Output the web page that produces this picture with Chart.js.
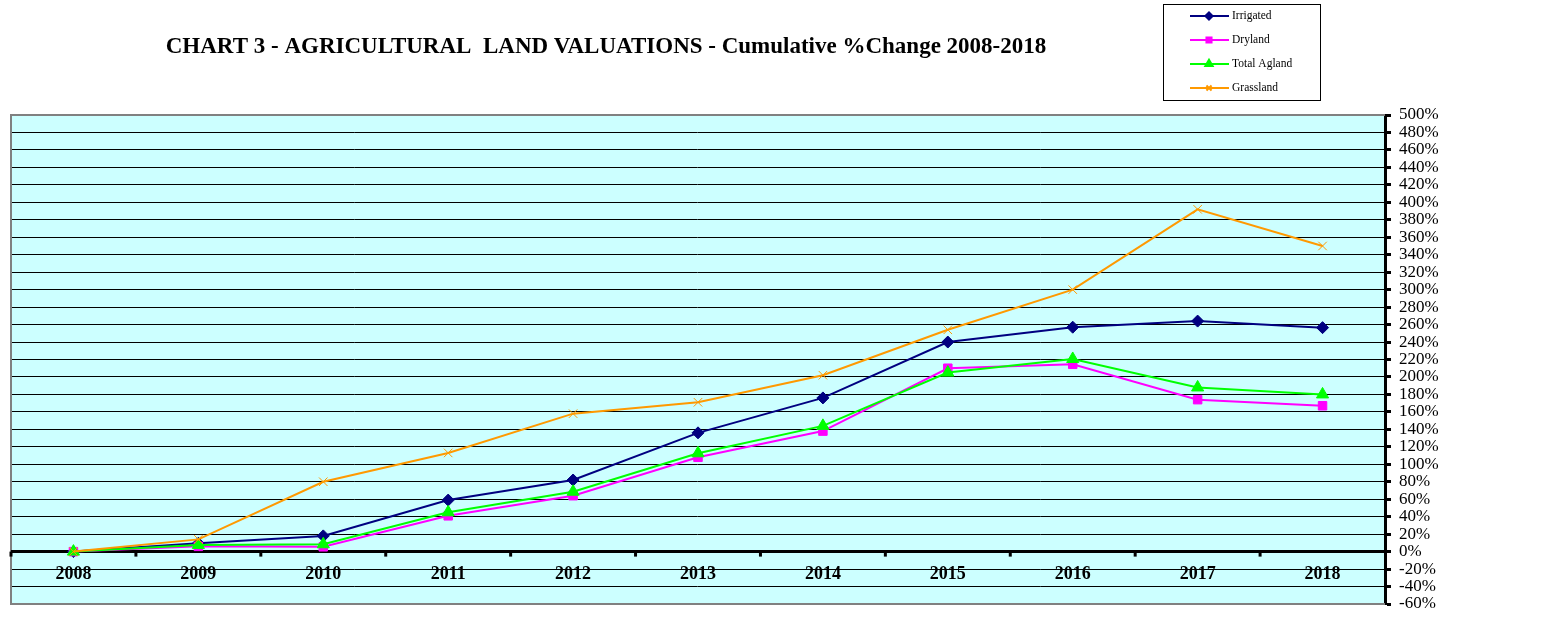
<!DOCTYPE html>
<html>
<head>
<meta charset="utf-8">
<script src="https://cdn.jsdelivr.net/npm/chart.js@4.4.1/dist/chart.umd.min.js"></script>
<style>
  body { margin: 0; background: #fff; }
  canvas { display: block; }
</style>
</head>
<body>
<canvas id="landChart" width="1556" height="624"></canvas>
<script>
// Chart data
const years = ['2008', '2009', '2010', '2011', '2012', '2013', '2014', '2015', '2016', '2017', '2018'];
const irrigated = [0, 9.5, 18, 59, 82, 136, 176, 240, 257, 264, 256.5];
const dryland = [0, 6, 5.5, 41, 64, 108, 138, 210, 214.5, 174, 167];
const totalAgland = [0, 7.6, 8.4, 45, 68.6, 112.6, 144, 205, 220.6, 188, 180];
const grassland = [0, 14, 80, 113, 158, 171, 202, 254, 300, 392, 350];
const yMin = -60;
const yMax = 500;
const yStep = 20;

const serif = "'Liberation Serif', 'Times New Roman', serif";

// Plot background, border, zero line, x labels, title and legend
const decorPlugin = {
    id: 'decor',
    beforeDraw(chart) {
        const { ctx, chartArea: a } = chart;
        ctx.save();
        ctx.fillStyle = '#CCFFFF';
        ctx.fillRect(a.left, a.top, a.right - a.left, a.bottom - a.top);
        ctx.restore();
    },
    beforeDatasetsDraw(chart) {
        const { ctx, chartArea: a, scales } = chart;
        const x = scales.x, y = scales.y;
        const y0 = y.getPixelForValue(0);
        ctx.save();
        // gray plot border
        ctx.strokeStyle = '#808080';
        ctx.lineWidth = 2;
        ctx.beginPath();
        ctx.moveTo(a.right, a.top);
        ctx.lineTo(a.left, a.top);
        ctx.lineTo(a.left, a.bottom);
        ctx.lineTo(a.right, a.bottom);
        ctx.stroke();
        // zero line
        ctx.strokeStyle = '#000';
        ctx.lineWidth = 3;
        ctx.beginPath();
        ctx.moveTo(a.left, y0);
        ctx.lineTo(a.right, y0);
        ctx.stroke();
        // category tick marks
        for (let i = 0; i < years.length; i++) {
            const bx = i === 0 ? a.left : (x.getPixelForValue(i - 1) + x.getPixelForValue(i)) / 2;
            ctx.beginPath();
            ctx.moveTo(bx, y0);
            ctx.lineTo(bx, y0 + 5);
            ctx.stroke();
        }
        // category labels
        ctx.fillStyle = '#000';
        ctx.font = 'bold 18px ' + serif;
        ctx.textAlign = 'center';
        ctx.textBaseline = 'middle';
        years.forEach((yr, i) => {
            ctx.fillText(yr, x.getPixelForValue(i), y0 + 23);
        });
        ctx.restore();
    },
    afterDraw(chart) {
        const ctx = chart.ctx;
        ctx.save();
        // title
        ctx.fillStyle = '#000';
        ctx.font = 'bold 23px ' + serif;
        ctx.textAlign = 'center';
        ctx.textBaseline = 'middle';
        ctx.fillText('CHART 3 - AGRICULTURAL  LAND VALUATIONS - Cumulative %Change 2008-2018', 606, 47);

        // legend box
        ctx.strokeStyle = '#000';
        ctx.lineWidth = 1;
        ctx.strokeRect(1163.5, 4.5, 157, 96);
        ctx.font = '11.5px ' + serif;
        ctx.textAlign = 'left';
        chart.data.datasets.slice().sort((p, q) => p.legendIndex - q.legendIndex).forEach((ds, i) => {
            const ly = 16 + i * 24;
            ctx.strokeStyle = ds.borderColor;
            ctx.lineWidth = 2;
            ctx.beginPath();
            ctx.moveTo(1190, ly);
            ctx.lineTo(1229, ly);
            ctx.stroke();
            ctx.fillStyle = ds.pointBackgroundColor;
            ctx.strokeStyle = ds.pointBorderColor;
            Chart.helpers.drawPoint(ctx, {
                pointStyle: ds.pointStyle,
                radius: ds.pointRadius * 0.6,
                rotation: 0,
                borderWidth: ds.pointBorderWidth
            }, 1209, ly);
            ctx.fillStyle = '#000';
            ctx.fillText(ds.label, 1232, ly);
        });
        ctx.restore();
    }
};

const ctx = document.getElementById('landChart').getContext('2d');
new Chart(ctx, {
    type: 'line',
    data: {
        labels: years,
        datasets: [
            {
                label: 'Irrigated',
                legendIndex: 0,
                order: 4,
                data: irrigated,
                borderColor: '#000080',
                borderWidth: 2,
                pointStyle: 'rectRot',
                pointRadius: 6,
                pointBackgroundColor: '#000080',
                pointBorderColor: '#000080',
                pointBorderWidth: 1,
                tension: 0
            },
            {
                label: 'Dryland',
                legendIndex: 1,
                order: 3,
                data: dryland,
                borderColor: '#FF00FF',
                borderWidth: 2,
                pointStyle: 'rect',
                pointRadius: 6,
                pointBackgroundColor: '#FF00FF',
                pointBorderColor: '#FF00FF',
                pointBorderWidth: 1,
                tension: 0
            },
            {
                label: 'Total Agland',
                legendIndex: 2,
                order: 2,
                data: totalAgland,
                borderColor: '#00FF00',
                borderWidth: 2,
                pointStyle: 'triangle',
                pointRadius: 7,
                pointBackgroundColor: '#00FF00',
                pointBorderColor: '#00FF00',
                pointBorderWidth: 1,
                tension: 0
            },
            {
                label: 'Grassland',
                legendIndex: 3,
                order: 1,
                data: grassland,
                borderColor: '#FF9900',
                borderWidth: 2,
                pointStyle: 'crossRot',
                pointRadius: 6,
                pointBackgroundColor: '#FF9900',
                pointBorderColor: '#FF9900',
                pointBorderWidth: 1,
                tension: 0
            }
        ]
    },
    options: {
        responsive: false,
        animation: false,
        layout: {
            padding: { left: 11, top: 115, bottom: 20, right: 0 }
        },
        plugins: {
            legend: { display: false },
            title: { display: false },
            tooltip: { enabled: false }
        },
        scales: {
            x: {
                display: false,
                offset: true
            },
            y: {
                position: 'right',
                min: yMin,
                max: yMax,
                afterFit(scale) {
                    scale.width = 171;
                },
                border: {
                    display: true,
                    color: '#000',
                    width: 3
                },
                grid: {
                    color: '#000',
                    lineWidth: 1,
                    drawTicks: true,
                    tickLength: 6,
                    tickColor: '#000',
                    tickWidth: 3
                },
                ticks: {
                    stepSize: yStep,
                    autoSkip: false,
                    padding: 8,
                    color: '#000',
                    font: { family: serif, size: 17 },
                    callback: value => value + '%'
                }
            }
        }
    },
    plugins: [decorPlugin]
});
</script>
</body>
</html>
